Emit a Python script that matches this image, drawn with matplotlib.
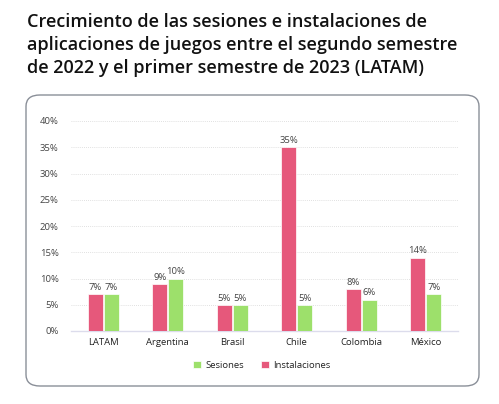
import numpy as np
import matplotlib.pyplot as plt
from matplotlib.patches import FancyBboxPatch

paises = ['LATAM', 'Argentina', 'Brasil', 'Chile', 'Colombia', 'México']
instalaciones = [7, 9, 5, 35, 8, 14]
sesiones = [7, 10, 5, 5, 6, 7]
yticks = [0, 5, 10, 15, 20, 25, 30, 35, 40]

rosa = '#E6587B'
verde = '#9DE06B'
gris = '#444444'

plt.rcParams['font.family'] = ['Open Sans', 'DejaVu Sans']

fig = plt.figure(figsize=(4.99, 4.04), dpi=100)

# caja redondeada detras del grafico
caja = FancyBboxPatch((26 / 499, 1 - 386 / 404), 453 / 499, 291 / 404,
                      boxstyle='round,pad=0,rounding_size=0.028',
                      transform=fig.transFigure, facecolor='white',
                      edgecolor='#8a8f98', linewidth=1.0, zorder=-1)
fig.patches.append(caja)

fig.text(27 / 499, 1 - 13 / 404,
         'Crecimiento de las sesiones e instalaciones de\n'
         'aplicaciones de juegos entre el segundo semestre\n'
         'de 2022 y el primer semestre de 2023 (LATAM)',
         ha='left', va='top', fontsize=13.0, fontweight='semibold',
         color='#111111', linespacing=1.36)

ax = fig.add_axes([71 / 499, 1 - 331 / 404, 387 / 499, 210 / 404])
ax.set_zorder(2)
ax.patch.set_alpha(0)
x = np.arange(len(paises))
w = 0.23
b1 = ax.bar(x - 0.125, instalaciones, w, color=rosa, edgecolor='white',
            linewidth=0.5, label='Instalaciones', zorder=3)
b2 = ax.bar(x + 0.125, sesiones, w, color=verde, edgecolor='white',
            linewidth=0.5, label='Sesiones', zorder=3)

for bars, vals in [(b1, instalaciones), (b2, sesiones)]:
    for r, v in zip(bars, vals):
        ax.text(r.get_x() + r.get_width() / 2, v + 0.4, f'{v}%',
                ha='center', va='bottom', fontsize=6.8, color=gris)

ax.set_xlim(-0.5, len(paises) - 0.5)
ax.set_ylim(0, 40)
ax.set_yticks(yticks)
ax.set_yticklabels([f'{t}%' for t in yticks])
ax.set_xticks(x)
ax.set_xticklabels(paises)
ax.tick_params(axis='y', length=0, labelsize=6.8, labelcolor=gris, pad=9)
ax.tick_params(axis='x', length=0, labelsize=6.8, labelcolor='#222222', pad=5)
ax.yaxis.grid(True, linestyle=(0, (1, 1.5)), color='#d6d6d6', linewidth=0.6, zorder=0)
for s in ['top', 'right', 'left']:
    ax.spines[s].set_visible(False)
ax.spines['bottom'].set_color('#dcdcec')
ax.spines['bottom'].set_linewidth(1.0)

h, l = ax.get_legend_handles_labels()
fig.legend([h[1], h[0]], [l[1], l[0]], loc='center', ncol=2,
           bbox_to_anchor=(262 / 499, 1 - 365 / 404), frameon=False,
           fontsize=6.8, handlelength=0.8, handleheight=0.8,
           handletextpad=0.5, columnspacing=1.8, labelcolor='#222222')

fig.savefig('out.png', dpi=100)
